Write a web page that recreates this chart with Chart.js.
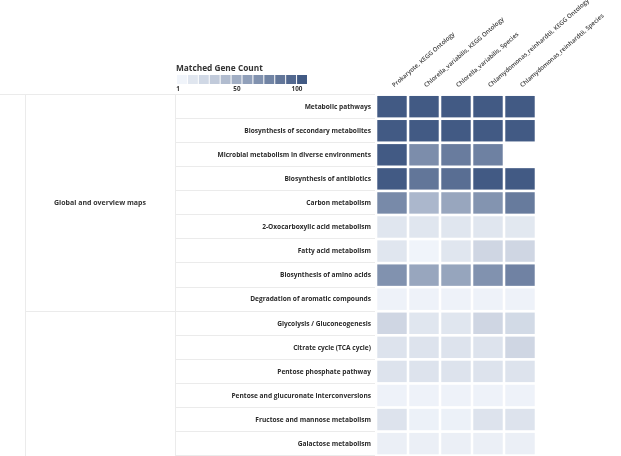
<!DOCTYPE html>
<html><head><meta charset="utf-8">
<script src="https://cdn.jsdelivr.net/npm/chart.js@4.4.1/dist/chart.umd.min.js"></script>
<style>html,body{margin:0;padding:0;background:#fff;}canvas{display:block;}</style>
</head><body>
<canvas id="c" width="621" height="456" style="width:621px;height:456px"></canvas>
<script>
// ---- data ----
const columns = [
  'Prokaryote, KEGG Ontology',
  'Chlorella_variabilis, KEGG Ontology',
  'Chlorella_variabilis, Species',
  'Chlamydomonas_reinhardtii, KEGG Ontology',
  'Chlamydomonas_reinhardtii, Species'
];
const rows = [
  'Metabolic pathways',
  'Biosynthesis of secondary metabolites',
  'Microbial metabolism in diverse environments',
  'Biosynthesis of antibiotics',
  'Carbon metabolism',
  '2-Oxocarboxylic acid metabolism',
  'Fatty acid metabolism',
  'Biosynthesis of amino acids',
  'Degradation of aromatic compounds',
  'Glycolysis / Gluconeogenesis',
  'Citrate cycle (TCA cycle)',
  'Pentose phosphate pathway',
  'Pentose and glucuronate interconversions',
  'Fructose and mannose metabolism',
  'Galactose metabolism'
];
const groupNames = ['Global and overview maps', 'Carbohydrate metabolism'];
const groupSizes = [9, 15];
const prokaryoteKEGG     = [100, 100, 100, 100, 69, 10, 10, 64, 2, 20, 12, 12, 2, 12, 4];
const chlorellaKEGG      = [100, 100, 67, 82, 40, 10, 1, 51, 2, 10, 12, 12, 2, 3, 4];
const chlorellaSpecies   = [100, 100, 78, 87, 51, 10, 10, 52, 2, 10, 12, 12, 2, 3, 4];
const chlamyKEGG         = [100, 100, 75, 100, 63, 10, 20, 64, 2, 20, 12, 12, 2, 12, 4];
const chlamySpecies      = [100, 100, null, 100, 79, 9, 20, 74, 2, 18, 20, 12, 2, 12, 4];
const legendTicks = [1, 50, 100];
const legendSteps = 12;

const series = [prokaryoteKEGG, chlorellaKEGG, chlorellaSpecies, chlamyKEGG, chlamySpecies];

const LIGHT = [240, 244, 250], DARK = [66, 90, 132];
function colorFor(v) {
  if (v == null) return 'rgba(0,0,0,0)';
  let t = Math.max(0, Math.min(1, (v - 1) / 99));
  const c = LIGHT.map((l, k) => Math.round(l + (DARK[k] - l) * t));
  return `rgb(${c[0]},${c[1]},${c[2]})`;
}

const FONT = "'Open Sans', 'DejaVu Sans', sans-serif";
const LINE = '#ebebeb';

const tablePlugin = {
  id: 'table',
  beforeDatasetsDraw(chart) {
    const {ctx, chartArea, scales: {y}} = chart;
    const H = chart.height;
    ctx.save();
    ctx.strokeStyle = LINE;
    ctx.lineWidth = 1;
    const top = Math.round(chartArea.top) - 0.5;
    const left = chartArea.left - 1;
    ctx.beginPath();
    ctx.moveTo(0, top); ctx.lineTo(left, top);
    ctx.moveTo(25.5, top); ctx.lineTo(25.5, H);
    ctx.moveTo(175.5, top); ctx.lineTo(175.5, H);
    for (let i = 1; i <= rows.length; i++) {
      const py = Math.round(y.getPixelForValue(i)) - 0.5;
      ctx.moveTo(176, py); ctx.lineTo(left, py);
    }
    let start = 0;
    groupSizes.forEach(n => {
      start += n;
      const py = Math.round(y.getPixelForValue(start)) - 0.5;
      ctx.moveTo(26, py); ctx.lineTo(175, py);
    });
    ctx.stroke();
    // group labels
    ctx.fillStyle = '#333';
    ctx.font = `bold 7px ${FONT}`;
    ctx.textAlign = 'center';
    ctx.textBaseline = 'middle';
    start = 0;
    groupSizes.forEach((n, g) => {
      const cy = (y.getPixelForValue(start) + y.getPixelForValue(start + n)) / 2;
      ctx.fillText(groupNames[g], 100, cy);
      start += n;
    });
    // legend
    ctx.textAlign = 'left';
    ctx.textBaseline = 'alphabetic';
    ctx.font = `bold 8.3px ${FONT}`;
    ctx.fillText('Matched Gene Count', 176, 71);
    const lx = 177, lw = 131, ly = 75, lh = 9;
    const sw = lw / legendSteps;
    for (let k = 0; k < legendSteps; k++) {
      ctx.fillStyle = colorFor(1 + k * 99 / (legendSteps - 1));
      ctx.fillRect(lx + k * sw, ly, sw - 1, lh);
    }
    ctx.fillStyle = '#333';
    ctx.font = `bold 6.3px ${FONT}`;
    ctx.textAlign = 'center';
    legendTicks.forEach(t => {
      const px = lx + (t - 1) / 99 * (lw - 12) + 1;
      ctx.fillText(String(t), px, 91);
    });
    ctx.restore();
  }
};

new Chart(document.getElementById('c'), {
  type: 'bar',
  data: {
    labels: columns,
    datasets: rows.map((r, i) => ({
      label: r,
      data: series.map(s => s[i] == null ? null : [i + 0.04, i + 0.93]),
      backgroundColor: series.map(s => colorFor(s[i])),
      borderWidth: 0,
      grouped: false,
      categoryPercentage: 1,
      barPercentage: 0.92
    }))
  },
  options: {
    responsive: false,
    animation: false,
    devicePixelRatio: 1,
    layout: {padding: {left: 0, right: 85, top: 0, bottom: 0}},
    plugins: {legend: {display: false}, tooltip: {enabled: false}},
    scales: {
      x: {
        type: 'category',
        position: 'top',
        grid: {display: false},
        border: {display: false},
        ticks: {
          autoSkip: false, minRotation: 41, maxRotation: 41, padding: -2, labelOffset: 6,
          color: '#3a3a3a', font: {family: FONT, size: 6.1, weight: '600'}
        },
        afterFit(s) { s.height = 95; s.paddingLeft = 0; s.paddingRight = 0; }
      },
      y: {
        type: 'linear', min: 0, max: 15, reverse: true,
        grid: {display: false, drawTicks: false},
        border: {display: false},
        afterBuildTicks(s) { s.ticks = rows.map((_, i) => ({value: i + 0.5})); },
        ticks: {
          autoSkip: false, padding: 5,
          callback: (v, i) => rows[i],
          color: '#2b2b2b', font: {family: FONT, size: 6.6, weight: 'bold'}
        },
        afterFit(s) { s.width = 376; s.paddingTop = 0; s.paddingBottom = 0; }
      }
    }
  },
  plugins: [tablePlugin]
});
</script>
</body></html>
